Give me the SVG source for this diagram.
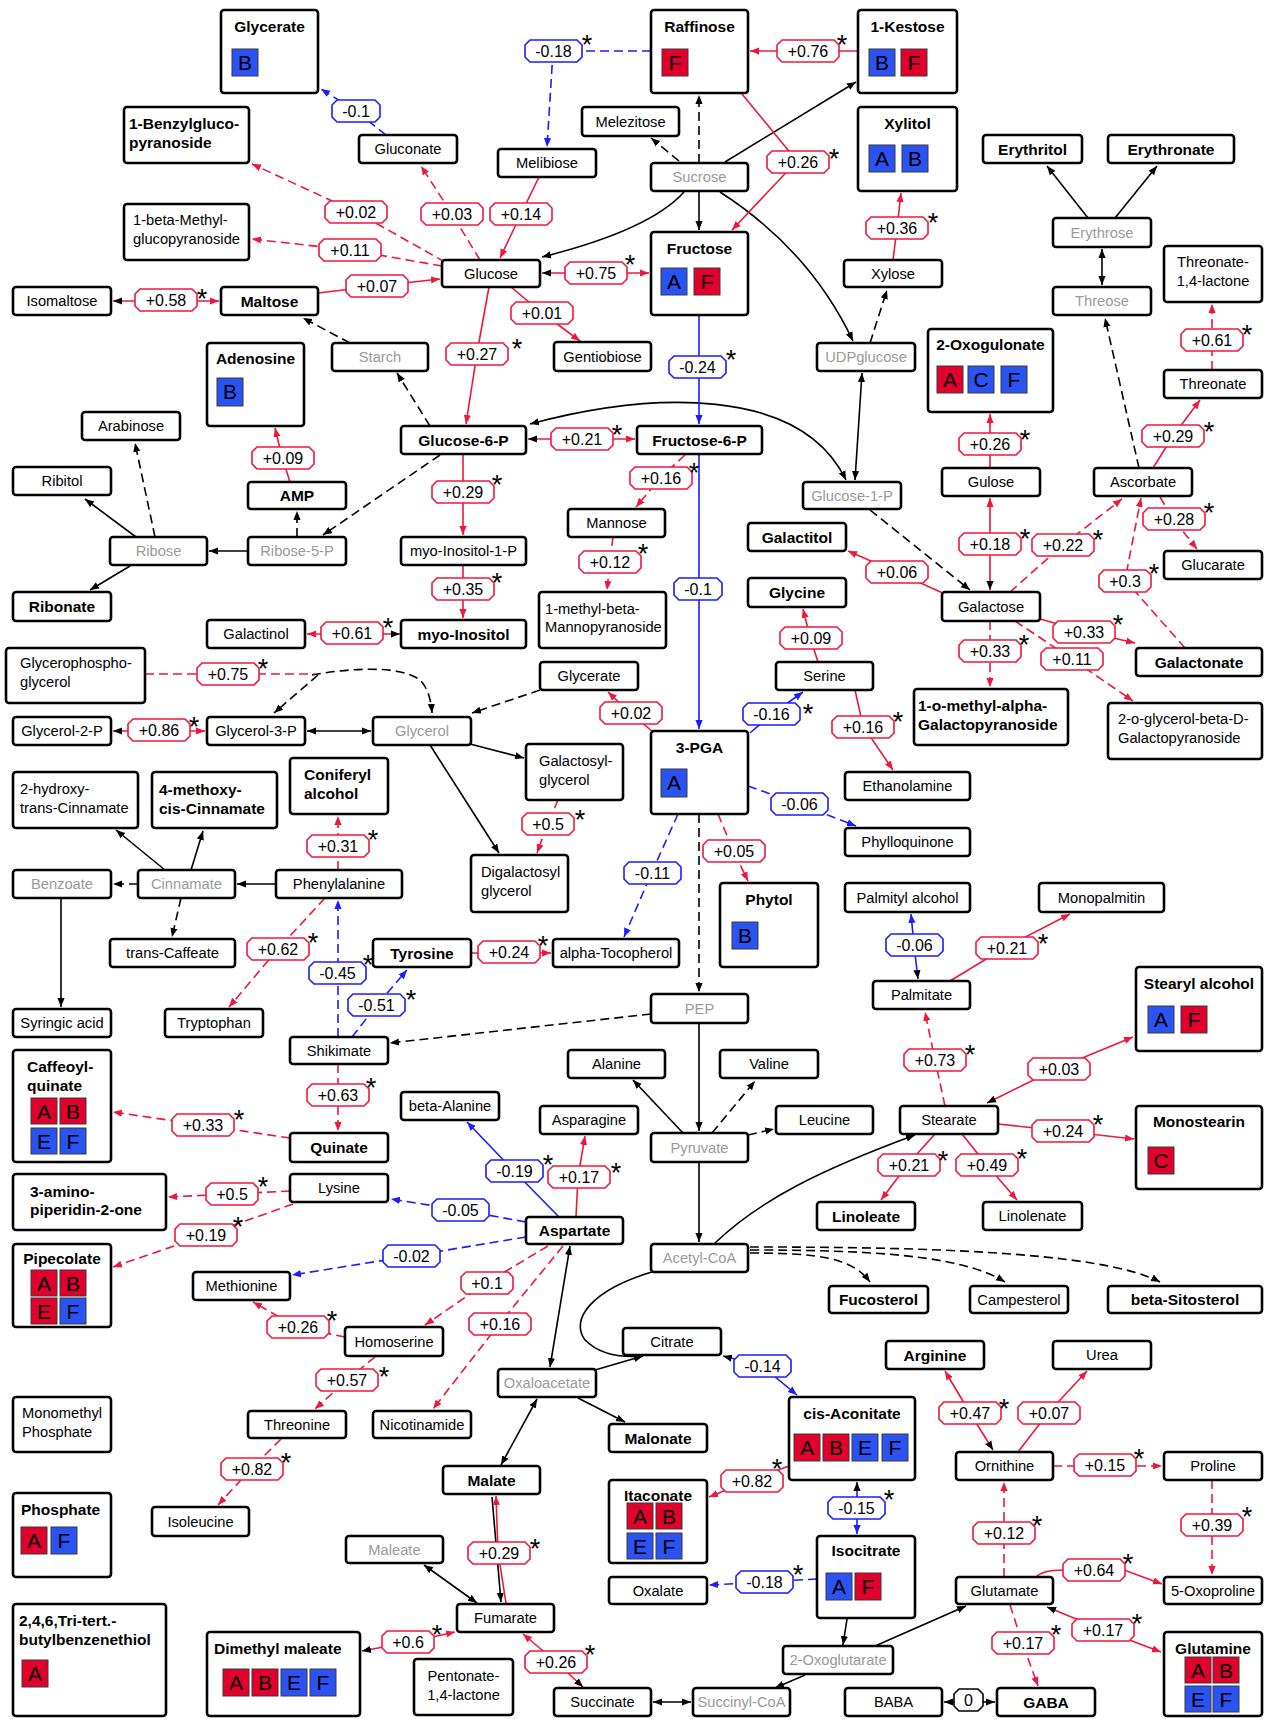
<svg xmlns="http://www.w3.org/2000/svg" width="1270" height="1719" viewBox="0 0 1270 1719">
<style>
text{font-family:"Liberation Sans",Arial,sans-serif;fill:#000}
.nb{fill:#fff;stroke:#000;stroke-width:2.6}
.t{font-size:14.7px;text-anchor:middle}
.tl{font-size:14.7px}
.b{font-size:15.5px;font-weight:bold;text-anchor:middle}
.bl{font-size:15.5px;font-weight:bold}
.g{fill:#9a9a9a}
.sr{fill:#e2002c;stroke:#3a3a3a;stroke-width:1}
.sb{fill:#2b52f2;stroke:#3a3a3a;stroke-width:1}
.sq{font-size:21px;text-anchor:middle}
.e{fill:none;stroke-width:1.6}
.k{stroke:#000}.r{stroke:#f0173c}.u{stroke:#1c1cff}
.d{stroke-dasharray:9 5}
.oct{fill:#fff;stroke-width:1.6}
.lr{stroke:#f0173c}.lb{stroke:#1c1cff}.lk{stroke:#000}
.lt{font-size:16px;text-anchor:middle}
.as{font-size:27px;text-anchor:middle}
</style>
<defs>
<marker id="mk" viewBox="0 0 10 10" refX="10" refY="5" markerWidth="9" markerHeight="9" markerUnits="userSpaceOnUse" orient="auto-start-reverse"><path d="M0,1 L10,5 L0,9 z" fill="#000"/></marker>
<marker id="mr" viewBox="0 0 10 10" refX="10" refY="5" markerWidth="9" markerHeight="9" markerUnits="userSpaceOnUse" orient="auto-start-reverse"><path d="M0,1 L10,5 L0,9 z" fill="#f0173c"/></marker>
<marker id="mb" viewBox="0 0 10 10" refX="10" refY="5" markerWidth="9" markerHeight="9" markerUnits="userSpaceOnUse" orient="auto-start-reverse"><path d="M0,1 L10,5 L0,9 z" fill="#1c1cff"/></marker>
<polygon id="o62" class="oct" points="5,0 57,0 62,5 62,17 57,22 5,22 0,17 0,5"/>
<polygon id="o57" class="oct" points="5,0 52,0 57,5 57,17 52,22 5,22 0,17 0,5"/>
<polygon id="o52" class="oct" points="5,0 47,0 52,5 52,17 47,22 5,22 0,17 0,5"/>
<polygon id="o48" class="oct" points="5,0 43,0 48,5 48,17 43,22 5,22 0,17 0,5"/>
<polygon id="o29" class="oct" points="5,0 24,0 29,5 29,17 24,22 5,22 0,17 0,5"/>
</defs>
<rect width="1270" height="1719" fill="#fff"/>

<g id="connectors">
<path class="e k d" d="M350,343 L303,318" marker-end="url(#mk)"/>
<path class="e k d" d="M430,426 L397,373" marker-end="url(#mk)"/>
<path class="e k" d="M684,192 Q650,230 542,257" marker-end="url(#mk)"/>
<path class="e k" d="M699,191 L699,230" marker-end="url(#mk)"/>
<path class="e k d" d="M699,163 L699,95" marker-end="url(#mk)"/>
<path class="e k d" d="M679,161 L651,138" marker-end="url(#mk)"/>
<path class="e k" d="M725,162 L856,82" marker-end="url(#mk)"/>
<path class="e k" d="M720,192 Q810,250 853,341" marker-end="url(#mk)"/>
<path class="e k d" d="M870,343 L887,290" marker-end="url(#mk)"/>
<path class="e k" d="M530,424 C650,392 800,385 846,480" marker-start="url(#mk)" marker-end="url(#mk)"/>
<path class="e k" d="M862,373 L855,480" marker-start="url(#mk)" marker-end="url(#mk)"/>
<path class="e k d" d="M440,455 L323,535" marker-end="url(#mk)"/>
<path class="e k d" d="M297,537 L297,511" marker-end="url(#mk)"/>
<path class="e k" d="M248,551 L209,551" marker-end="url(#mk)"/>
<path class="e k d" d="M155,537 L135,443" marker-end="url(#mk)"/>
<path class="e k" d="M136,537 L85,499" marker-end="url(#mk)"/>
<path class="e k" d="M130,566 L90,590" marker-end="url(#mk)"/>
<path class="e k d" d="M312,675 C350,668 400,665 420,680 C428,688 431,700 432,713" marker-end="url(#mk)"/>
<path class="e k d" d="M318,675 L274,713" marker-end="url(#mk)"/>
<path class="e k" d="M307,731 L371,731" marker-start="url(#mk)" marker-end="url(#mk)"/>
<path class="e k d" d="M540,690 L472,713" marker-end="url(#mk)"/>
<path class="e k" d="M470,744 L524,758" marker-end="url(#mk)"/>
<path class="e k" d="M430,745 L499,853" marker-end="url(#mk)"/>
<path class="e k d" d="M699,814 L699,992" marker-end="url(#mk)"/>
<path class="e k d" d="M870,510 L970,590" marker-end="url(#mk)"/>
<path class="e k d" d="M1139,468 L1105,318" marker-end="url(#mk)"/>
<path class="e k" d="M1102,249 L1102,285" marker-start="url(#mk)" marker-end="url(#mk)"/>
<path class="e k" d="M1088,218 L1047,166" marker-end="url(#mk)"/>
<path class="e k" d="M1115,218 L1157,166" marker-end="url(#mk)"/>
<path class="e k" d="M276,884 L237,884" marker-end="url(#mk)"/>
<path class="e k d" d="M138,884 L113,884" marker-end="url(#mk)"/>
<path class="e k" d="M165,870 L116,830" marker-end="url(#mk)"/>
<path class="e k" d="M191,870 L203,831" marker-end="url(#mk)"/>
<path class="e k d" d="M181,898 L172,937" marker-end="url(#mk)"/>
<path class="e k" d="M61,898 L61,1007" marker-end="url(#mk)"/>
<path class="e k d" d="M651,1014 L390,1043" marker-end="url(#mk)"/>
<path class="e k" d="M699,1023 L699,1131" marker-end="url(#mk)"/>
<path class="e k" d="M683,1133 L633,1080" marker-end="url(#mk)"/>
<path class="e k d" d="M712,1133 L755,1081" marker-end="url(#mk)"/>
<path class="e k d" d="M748,1135 L774,1129" marker-end="url(#mk)"/>
<path class="e k" d="M699,1162 L699,1242" marker-end="url(#mk)"/>
<path class="e k" d="M715,1243 C760,1200 820,1170 915,1135" marker-end="url(#mk)"/>
<path class="e k d" d="M750,1253 C820,1253 852,1258 870,1282" marker-end="url(#mk)"/>
<path class="e k d" d="M750,1250 C870,1250 962,1255 1005,1282" marker-end="url(#mk)"/>
<path class="e k d" d="M750,1247 C900,1247 1100,1250 1160,1282" marker-end="url(#mk)"/>
<path class="e k" d="M550,1367 L570,1246" marker-start="url(#mk)" marker-end="url(#mk)"/>
<path class="e k" d="M595,1370 L643,1356" marker-end="url(#mk)"/>
<path class="e k" d="M655,1271 C590,1290 570,1320 585,1340 C600,1355 620,1358 643,1356" marker-end="url(#mk)"/>
<path class="e k" d="M578,1398 L625,1422" marker-end="url(#mk)"/>
<path class="e k" d="M537,1399 L501,1465" marker-start="url(#mk)" marker-end="url(#mk)"/>
<path class="e k" d="M424,1565 L477,1603" marker-start="url(#mk)" marker-end="url(#mk)"/>
<path class="e k" d="M653,1702 L691,1702" marker-start="url(#mk)" marker-end="url(#mk)"/>
<path class="e k" d="M805,1675 L775,1688" marker-end="url(#mk)"/>
<path class="e k" d="M847,1619 L843,1645" marker-end="url(#mk)"/>
<path class="e k" d="M875,1646 L966,1606" marker-end="url(#mk)"/>
<path class="e k" d="M492,1497 L501,1602" marker-end="url(#mk)"/>
<path class="e k" d="M944,1702 L995,1702" marker-start="url(#mk)" marker-end="url(#mk)"/>
<path class="e u d" d="M386,135 L356,111 L321,89" marker-end="url(#mb)"/>
<path class="e r d" d="M445,262 L356,212 L252,164" marker-end="url(#mr)"/>
<path class="e r d" d="M442,266 L350,250 L252,239" marker-end="url(#mr)"/>
<path class="e r d" d="M480,260 L452,214 L421,166" marker-end="url(#mr)"/>
<path class="e r" d="M539,177 L521,214 L500,258" marker-end="url(#mr)"/>
<path class="e r" d="M318,293 L377,286 L440,279" marker-end="url(#mr)"/>
<path class="e r" d="M113,301 L219,301" marker-start="url(#mk)" marker-end="url(#mr)"/>
<path class="e u d" d="M651,51 L553,51 L547,147" marker-end="url(#mb)"/>
<path class="e r" d="M858,51 L750,51" marker-end="url(#mr)"/>
<path class="e r" d="M742,94 L797,161 L732,230" marker-end="url(#mr)"/>
<path class="e r" d="M542,273 L649,273" marker-start="url(#mk)" marker-end="url(#mr)"/>
<path class="e r" d="M511,287 L541,312 L580,341" marker-end="url(#mr)"/>
<path class="e r" d="M489,287 L477,353 L466,424" marker-end="url(#mr)"/>
<path class="e u" d="M699,315 L699,424" marker-end="url(#mb)"/>
<path class="e r" d="M893,260 L897,228 L901,193" marker-end="url(#mr)"/>
<path class="e r" d="M528,439 L635,439" marker-start="url(#mk)" marker-end="url(#mr)"/>
<path class="e r" d="M463,454 L463,535" marker-end="url(#mr)"/>
<path class="e r" d="M463,565 L463,618" marker-end="url(#mr)"/>
<path class="e r d" d="M685,455 L661,477 L636,507" marker-end="url(#mr)"/>
<path class="e r d" d="M613,537 L610,561 L607,590" marker-end="url(#mr)"/>
<path class="e u" d="M699,454 L699,729" marker-end="url(#mb)"/>
<path class="e r" d="M290,482 L282,457 L275,428" marker-end="url(#mr)"/>
<path class="e r" d="M400,634 L307,634" marker-start="url(#mk)" marker-end="url(#mr)"/>
<path class="e r d" d="M145,674 L315,674"/>
<path class="e r" d="M113,731 L205,731" marker-start="url(#mk)" marker-end="url(#mr)"/>
<path class="e r" d="M652,731 L630,713 L608,692" marker-end="url(#mr)"/>
<path class="e u" d="M750,733 L772,714 L803,692" marker-end="url(#mb)"/>
<path class="e r" d="M818,662 L810,637 L803,609" marker-end="url(#mr)"/>
<path class="e r" d="M855,690 L863,726 L893,770" marker-end="url(#mr)"/>
<path class="e u d" d="M748,786 L799,804 L856,826" marker-end="url(#mb)"/>
<path class="e r d" d="M558,800 L548,823 L537,853" marker-end="url(#mr)"/>
<path class="e r d" d="M718,814 L733,850 L748,881" marker-end="url(#mr)"/>
<path class="e u d" d="M678,814 L652,872 L624,937" marker-end="url(#mb)"/>
<path class="e r" d="M471,953 L551,953" marker-end="url(#mr)"/>
<path class="e r" d="M990,468 L990,414" marker-end="url(#mr)"/>
<path class="e r" d="M990,590 L990,498" marker-start="url(#mk)" marker-end="url(#mr)"/>
<path class="e r d" d="M1010,592 L1063,545 L1122,499" marker-end="url(#mr)"/>
<path class="e r" d="M945,594 L896,572 L848,551" marker-end="url(#mr)"/>
<path class="e r d" d="M1160,497 L1173,519 L1197,549" marker-end="url(#mr)"/>
<path class="e r d" d="M1185,648 L1125,580 L1141,498" marker-end="url(#mr)"/>
<path class="e r" d="M1040,619 L1083,631 L1135,643" marker-end="url(#mr)"/>
<path class="e r d" d="M990,621 L990,687" marker-end="url(#mr)"/>
<path class="e r d" d="M1015,621 L1072,659 L1133,701" marker-end="url(#mr)"/>
<path class="e r" d="M1153,468 L1173,436 L1200,400" marker-end="url(#mr)"/>
<path class="e r d" d="M1212,370 L1212,304" marker-end="url(#mr)"/>
<path class="e r d" d="M338,870 L338,816" marker-end="url(#mr)"/>
<path class="e r d" d="M325,898 L278,949 L229,1007" marker-end="url(#mr)"/>
<path class="e u d" d="M338,1037 L338,900" marker-end="url(#mb)"/>
<path class="e u d" d="M352,1037 L377,1005 L407,970" marker-end="url(#mb)"/>
<path class="e r d" d="M338,1064 L338,1131" marker-end="url(#mr)"/>
<path class="e r d" d="M290,1138 L202,1125 L113,1112" marker-end="url(#mr)"/>
<path class="e r d" d="M290,1191 L231,1194 L168,1197" marker-end="url(#mr)"/>
<path class="e r d" d="M293,1204 L206,1235 L113,1267" marker-end="url(#mr)"/>
<path class="e u d" d="M526,1222 L460,1210 L391,1199" marker-end="url(#mb)"/>
<path class="e u d" d="M526,1237 L411,1256 L292,1275" marker-end="url(#mb)"/>
<path class="e u" d="M559,1217 L514,1171 L467,1122" marker-end="url(#mb)"/>
<path class="e r" d="M576,1217 L578,1177 L585,1136" marker-end="url(#mr)"/>
<path class="e r d" d="M548,1246 L486,1283 L425,1325" marker-end="url(#mr)"/>
<path class="e r d" d="M563,1246 L500,1323 L433,1409" marker-end="url(#mr)"/>
<path class="e r d" d="M345,1337 L297,1327 L253,1302" marker-end="url(#mr)"/>
<path class="e r d" d="M375,1357 L347,1380 L315,1409" marker-end="url(#mr)"/>
<path class="e r d" d="M281,1439 L251,1469 L218,1505" marker-end="url(#mr)"/>
<path class="e r" d="M506,1603 L498,1552 L496,1496" marker-end="url(#mr)"/>
<path class="e r" d="M362,1651 L410,1642 L455,1632" marker-start="url(#mk)" marker-end="url(#mr)"/>
<path class="e r" d="M583,1687 L555,1661 L523,1634" marker-start="url(#mk)" marker-end="url(#mr)"/>
<path class="e u" d="M723,1356 L762,1366 L797,1395" marker-start="url(#mk)" marker-end="url(#mb)"/>
<path class="e u" d="M857,1482 L857,1534" marker-start="url(#mk)" marker-end="url(#mb)"/>
<path class="e r" d="M789,1466 L751,1480 L709,1497" marker-end="url(#mr)"/>
<path class="e u d" d="M817,1579 L765,1582 L709,1585" marker-end="url(#mb)"/>
<path class="e r" d="M993,1450 L970,1413 L945,1371" marker-start="url(#mk)" marker-end="url(#mr)"/>
<path class="e r" d="M1018,1452 L1048,1413 L1087,1371" marker-end="url(#mr)"/>
<path class="e r d" d="M1053,1466 L1162,1466" marker-end="url(#mr)"/>
<path class="e r d" d="M1212,1480 L1212,1575" marker-end="url(#mr)"/>
<path class="e r d" d="M1004,1577 L1004,1482" marker-end="url(#mr)"/>
<path class="e r" d="M1036,1577 C1042,1571 1052,1570 1063,1570 L1124,1570 L1162,1584" marker-end="url(#mr)"/>
<path class="e r" d="M1047,1607 L1103,1630 L1161,1652" marker-start="url(#mk)" marker-end="url(#mr)"/>
<path class="e r d" d="M1010,1605 L1022,1642 L1038,1686" marker-end="url(#mr)"/>
<path class="e u" d="M918,979 L914,945 L911,914" marker-start="url(#mk)" marker-end="url(#mb)"/>
<path class="e r" d="M950,981 L1006,947 L1070,914" marker-end="url(#mr)"/>
<path class="e r d" d="M945,1106 L935,1060 L925,1012" marker-end="url(#mr)"/>
<path class="e r" d="M987,1103 L1058,1068 L1133,1037" marker-start="url(#mk)" marker-end="url(#mr)"/>
<path class="e r" d="M998,1124 L1063,1131 L1134,1139" marker-end="url(#mr)"/>
<path class="e r" d="M935,1134 L908,1164 L881,1200" marker-end="url(#mr)"/>
<path class="e r" d="M962,1134 L986,1164 L1017,1200" marker-end="url(#mr)"/>
</g>

<g id="edge-labels">
<use href="#o48" class="lb" x="332" y="100"/><text class="lt" x="356" y="117">-0.1</text>
<use href="#o62" class="lr" x="325" y="201"/><text class="lt" x="356" y="218">+0.02</text>
<use href="#o62" class="lr" x="319" y="239"/><text class="lt" x="350" y="256">+0.11</text>
<use href="#o62" class="lr" x="421" y="203"/><text class="lt" x="452" y="220">+0.03</text>
<use href="#o62" class="lr" x="490" y="203"/><text class="lt" x="521" y="220">+0.14</text>
<use href="#o62" class="lr" x="346" y="275"/><text class="lt" x="377" y="292">+0.07</text>
<use href="#o62" class="lr" x="135" y="289"/><text class="lt" x="166" y="306">+0.58</text><text class="as" x="202" y="308">*</text>
<use href="#o57" class="lb" x="525" y="40"/><text class="lt" x="553.5" y="57">-0.18</text><text class="as" x="587" y="54">*</text>
<use href="#o62" class="lr" x="777" y="40"/><text class="lt" x="808" y="57">+0.76</text><text class="as" x="842" y="54">*</text>
<use href="#o62" class="lr" x="767" y="151"/><text class="lt" x="798" y="168">+0.26</text><text class="as" x="834" y="168">*</text>
<use href="#o62" class="lr" x="565" y="262"/><text class="lt" x="596" y="279">+0.75</text><text class="as" x="630" y="274">*</text>
<use href="#o62" class="lr" x="511" y="302"/><text class="lt" x="542" y="319">+0.01</text>
<use href="#o62" class="lr" x="446" y="343"/><text class="lt" x="477" y="360">+0.27</text><text class="as" x="517" y="358">*</text>
<use href="#o57" class="lb" x="669" y="356"/><text class="lt" x="697.5" y="373">-0.24</text><text class="as" x="731" y="369">*</text>
<use href="#o62" class="lr" x="866" y="217"/><text class="lt" x="897" y="234">+0.36</text><text class="as" x="933" y="232">*</text>
<use href="#o62" class="lr" x="551" y="428"/><text class="lt" x="582" y="445">+0.21</text><text class="as" x="617" y="444">*</text>
<use href="#o62" class="lr" x="432" y="481"/><text class="lt" x="463" y="498">+0.29</text><text class="as" x="497" y="494">*</text>
<use href="#o62" class="lr" x="432" y="578"/><text class="lt" x="463" y="595">+0.35</text><text class="as" x="497" y="592">*</text>
<use href="#o62" class="lr" x="630" y="467"/><text class="lt" x="661" y="484">+0.16</text><text class="as" x="694" y="482">*</text>
<use href="#o62" class="lr" x="579" y="551"/><text class="lt" x="610" y="568">+0.12</text><text class="as" x="643" y="563">*</text>
<use href="#o48" class="lb" x="674" y="578"/><text class="lt" x="698" y="595">-0.1</text>
<use href="#o62" class="lr" x="252" y="447"/><text class="lt" x="283" y="464">+0.09</text>
<use href="#o62" class="lr" x="321" y="622"/><text class="lt" x="352" y="639">+0.61</text><text class="as" x="388" y="637">*</text>
<use href="#o62" class="lr" x="197" y="663"/><text class="lt" x="228" y="680">+0.75</text><text class="as" x="263" y="678">*</text>
<use href="#o62" class="lr" x="128" y="719"/><text class="lt" x="159" y="736">+0.86</text><text class="as" x="194" y="736">*</text>
<use href="#o62" class="lr" x="600" y="702"/><text class="lt" x="631" y="719">+0.02</text>
<use href="#o57" class="lb" x="743" y="703"/><text class="lt" x="771.5" y="720">-0.16</text><text class="as" x="808" y="723">*</text>
<use href="#o62" class="lr" x="780" y="627"/><text class="lt" x="811" y="644">+0.09</text>
<use href="#o62" class="lr" x="832" y="716"/><text class="lt" x="863" y="733">+0.16</text><text class="as" x="898" y="731">*</text>
<use href="#o57" class="lb" x="771" y="793"/><text class="lt" x="799.5" y="810">-0.06</text>
<use href="#o52" class="lr" x="522" y="813"/><text class="lt" x="548" y="830">+0.5</text><text class="as" x="580" y="829">*</text>
<use href="#o62" class="lr" x="703" y="840"/><text class="lt" x="734" y="857">+0.05</text>
<use href="#o57" class="lb" x="624" y="862"/><text class="lt" x="652.5" y="879">-0.11</text>
<use href="#o62" class="lr" x="478" y="941"/><text class="lt" x="509" y="958">+0.24</text><text class="as" x="543" y="955">*</text>
<use href="#o62" class="lr" x="959" y="433"/><text class="lt" x="990" y="450">+0.26</text><text class="as" x="1025" y="449">*</text>
<use href="#o62" class="lr" x="959" y="533"/><text class="lt" x="990" y="550">+0.18</text><text class="as" x="1025" y="548">*</text>
<use href="#o62" class="lr" x="1032" y="534"/><text class="lt" x="1063" y="551">+0.22</text><text class="as" x="1098" y="549">*</text>
<use href="#o62" class="lr" x="866" y="561"/><text class="lt" x="897" y="578">+0.06</text>
<use href="#o62" class="lr" x="1143" y="508"/><text class="lt" x="1174" y="525">+0.28</text><text class="as" x="1209" y="522">*</text>
<use href="#o52" class="lr" x="1099" y="570"/><text class="lt" x="1125" y="587">+0.3</text><text class="as" x="1154" y="583">*</text>
<use href="#o62" class="lr" x="1053" y="621"/><text class="lt" x="1084" y="638">+0.33</text><text class="as" x="1118" y="634">*</text>
<use href="#o62" class="lr" x="959" y="640"/><text class="lt" x="990" y="657">+0.33</text><text class="as" x="1024" y="654">*</text>
<use href="#o62" class="lr" x="1041" y="648"/><text class="lt" x="1072" y="665">+0.11</text>
<use href="#o62" class="lr" x="1142" y="425"/><text class="lt" x="1173" y="442">+0.29</text><text class="as" x="1209" y="441">*</text>
<use href="#o62" class="lr" x="1181" y="329"/><text class="lt" x="1212" y="346">+0.61</text><text class="as" x="1247" y="344">*</text>
<use href="#o62" class="lr" x="307" y="835"/><text class="lt" x="338" y="852">+0.31</text><text class="as" x="373" y="849">*</text>
<use href="#o62" class="lr" x="247" y="938"/><text class="lt" x="278" y="955">+0.62</text><text class="as" x="313" y="952">*</text>
<use href="#o57" class="lb" x="309" y="962"/><text class="lt" x="337.5" y="979">-0.45</text><text class="as" x="368" y="974">*</text>
<use href="#o57" class="lb" x="348" y="994"/><text class="lt" x="376.5" y="1011">-0.51</text><text class="as" x="411" y="1009">*</text>
<use href="#o62" class="lr" x="307" y="1084"/><text class="lt" x="338" y="1101">+0.63</text><text class="as" x="371" y="1097">*</text>
<use href="#o62" class="lr" x="172" y="1114"/><text class="lt" x="203" y="1131">+0.33</text><text class="as" x="239" y="1129">*</text>
<use href="#o52" class="lr" x="206" y="1183"/><text class="lt" x="232" y="1200">+0.5</text><text class="as" x="263" y="1196">*</text>
<use href="#o62" class="lr" x="175" y="1224"/><text class="lt" x="206" y="1241">+0.19</text><text class="as" x="238" y="1236">*</text>
<use href="#o57" class="lb" x="432" y="1199"/><text class="lt" x="460.5" y="1216">-0.05</text>
<use href="#o57" class="lb" x="383" y="1245"/><text class="lt" x="411.5" y="1262">-0.02</text>
<use href="#o57" class="lb" x="486" y="1160"/><text class="lt" x="514.5" y="1177">-0.19</text><text class="as" x="548" y="1174">*</text>
<use href="#o62" class="lr" x="548" y="1166"/><text class="lt" x="579" y="1183">+0.17</text><text class="as" x="616" y="1182">*</text>
<use href="#o52" class="lr" x="461" y="1272"/><text class="lt" x="487" y="1289">+0.1</text>
<use href="#o62" class="lr" x="469" y="1313"/><text class="lt" x="500" y="1330">+0.16</text>
<use href="#o62" class="lr" x="267" y="1316"/><text class="lt" x="298" y="1333">+0.26</text><text class="as" x="332" y="1330">*</text>
<use href="#o62" class="lr" x="316" y="1369"/><text class="lt" x="347" y="1386">+0.57</text><text class="as" x="384" y="1386">*</text>
<use href="#o62" class="lr" x="221" y="1458"/><text class="lt" x="252" y="1475">+0.82</text><text class="as" x="286" y="1472">*</text>
<use href="#o62" class="lr" x="468" y="1542"/><text class="lt" x="499" y="1559">+0.29</text><text class="as" x="535" y="1558">*</text>
<use href="#o52" class="lr" x="382" y="1631"/><text class="lt" x="408" y="1648">+0.6</text><text class="as" x="437" y="1644">*</text>
<use href="#o62" class="lr" x="525" y="1651"/><text class="lt" x="556" y="1668">+0.26</text><text class="as" x="590" y="1664">*</text>
<use href="#o57" class="lb" x="734" y="1355"/><text class="lt" x="762.5" y="1372">-0.14</text>
<use href="#o57" class="lb" x="828" y="1497"/><text class="lt" x="856.5" y="1514">-0.15</text><text class="as" x="889" y="1509">*</text>
<use href="#o62" class="lr" x="721" y="1470"/><text class="lt" x="752" y="1487">+0.82</text><text class="as" x="777" y="1478">*</text>
<use href="#o57" class="lb" x="736" y="1571"/><text class="lt" x="764.5" y="1588">-0.18</text><text class="as" x="798" y="1584">*</text>
<use href="#o62" class="lr" x="939" y="1402"/><text class="lt" x="970" y="1419">+0.47</text><text class="as" x="1004" y="1418">*</text>
<use href="#o62" class="lr" x="1018" y="1402"/><text class="lt" x="1049" y="1419">+0.07</text>
<use href="#o62" class="lr" x="1074" y="1454"/><text class="lt" x="1105" y="1471">+0.15</text><text class="as" x="1139" y="1468">*</text>
<use href="#o62" class="lr" x="1181" y="1514"/><text class="lt" x="1212" y="1531">+0.39</text><text class="as" x="1247" y="1526">*</text>
<use href="#o62" class="lr" x="973" y="1522"/><text class="lt" x="1004" y="1539">+0.12</text><text class="as" x="1037" y="1535">*</text>
<use href="#o62" class="lr" x="1063" y="1559"/><text class="lt" x="1094" y="1576">+0.64</text><text class="as" x="1128" y="1573">*</text>
<use href="#o62" class="lr" x="1072" y="1619"/><text class="lt" x="1103" y="1636">+0.17</text><text class="as" x="1137" y="1633">*</text>
<use href="#o62" class="lr" x="992" y="1632"/><text class="lt" x="1023" y="1649">+0.17</text><text class="as" x="1056" y="1644">*</text>
<use href="#o29" class="lk" x="954" y="1689"/><text class="lt" x="968.5" y="1706">0</text>
<use href="#o57" class="lb" x="886" y="934"/><text class="lt" x="914.5" y="951">-0.06</text>
<use href="#o62" class="lr" x="976" y="937"/><text class="lt" x="1007" y="954">+0.21</text><text class="as" x="1043" y="953">*</text>
<use href="#o62" class="lr" x="904" y="1049"/><text class="lt" x="935" y="1066">+0.73</text><text class="as" x="970" y="1064">*</text>
<use href="#o62" class="lr" x="1028" y="1058"/><text class="lt" x="1059" y="1075">+0.03</text>
<use href="#o62" class="lr" x="1032" y="1120"/><text class="lt" x="1063" y="1137">+0.24</text><text class="as" x="1098" y="1134">*</text>
<use href="#o62" class="lr" x="878" y="1154"/><text class="lt" x="909" y="1171">+0.21</text><text class="as" x="943" y="1170">*</text>
<use href="#o62" class="lr" x="956" y="1154"/><text class="lt" x="987" y="1171">+0.49</text><text class="as" x="1022" y="1168">*</text>
</g>

<g id="nodes">
<g id="n-glycerate-top"><rect class="nb" x="221" y="10" width="97" height="83" rx="3"/><text class="b" x="269.5" y="31.5">Glycerate</text><rect class="sb" x="232" y="49" width="26" height="27"/><text class="sq" x="245" y="70">B</text></g>
<g id="n-raffinose"><rect class="nb" x="651" y="10" width="97" height="83" rx="3"/><text class="b" x="699.5" y="31.5">Raffinose</text><rect class="sr" x="662" y="49" width="26" height="27"/><text class="sq" x="675" y="70">F</text></g>
<g id="n-kestose"><rect class="nb" x="858" y="10" width="99" height="83" rx="3"/><text class="b" x="907.5" y="31.5">1-Kestose</text><rect class="sb" x="869" y="49" width="26" height="27"/><text class="sq" x="882" y="70">B</text><rect class="sr" x="901" y="49" width="26" height="27"/><text class="sq" x="914" y="70">F</text></g>
<g id="n-xylitol"><rect class="nb" x="858" y="107" width="99" height="84" rx="3"/><text class="b" x="907.5" y="128.5">Xylitol</text><rect class="sb" x="869" y="145" width="26" height="27"/><text class="sq" x="882" y="166">A</text><rect class="sb" x="902" y="145" width="26" height="27"/><text class="sq" x="915" y="166">B</text></g>
<g id="n-fructose"><rect class="nb" x="651" y="232" width="97" height="83" rx="3"/><text class="b" x="699.5" y="253.5">Fructose</text><rect class="sb" x="661" y="268" width="26" height="27"/><text class="sq" x="674" y="289">A</text><rect class="sr" x="694" y="268" width="26" height="27"/><text class="sq" x="707" y="289">F</text></g>
<g id="n-adenosine"><rect class="nb" x="207" y="343" width="97" height="83" rx="3"/><text class="b" x="255.5" y="363.5">Adenosine</text><rect class="sb" x="217" y="378" width="26" height="28"/><text class="sq" x="230" y="399">B</text></g>
<g id="n-oxogulonate"><rect class="nb" x="928" y="329" width="125" height="83" rx="3"/><text class="b" x="990.5" y="349.5">2-Oxogulonate</text><rect class="sr" x="937" y="366" width="26" height="27"/><text class="sq" x="950" y="387">A</text><rect class="sb" x="968" y="366" width="26" height="27"/><text class="sq" x="981" y="387">C</text><rect class="sb" x="1001" y="366" width="26" height="27"/><text class="sq" x="1014" y="387">F</text></g>
<g id="n-3pga"><rect class="nb" x="651" y="731" width="97" height="83" rx="3"/><text class="b" x="699.5" y="752.5">3-PGA</text><rect class="sb" x="661" y="769" width="26" height="28"/><text class="sq" x="674" y="790">A</text></g>
<g id="n-phytol"><rect class="nb" x="720" y="883" width="98" height="84" rx="3"/><text class="b" x="769" y="904.5">Phytol</text><rect class="sb" x="732" y="922" width="26" height="27"/><text class="sq" x="745" y="943">B</text></g>
<g id="n-stearylalcohol"><rect class="nb" x="1136" y="967" width="126" height="84" rx="3"/><text class="b" x="1199" y="988.5">Stearyl alcohol</text><rect class="sb" x="1148" y="1006" width="26" height="27"/><text class="sq" x="1161" y="1027">A</text><rect class="sr" x="1181" y="1006" width="26" height="27"/><text class="sq" x="1194" y="1027">F</text></g>
<g id="n-monostearin"><rect class="nb" x="1136" y="1106" width="126" height="83" rx="3"/><text class="b" x="1199" y="1126.5">Monostearin</text><rect class="sr" x="1148" y="1147" width="26" height="27"/><text class="sq" x="1161" y="1168">C</text></g>
<g id="n-caffeoylquinate"><rect class="nb" x="13" y="1050" width="98" height="112" rx="3"/><text class="bl" x="27" y="1071.5">Caffeoyl-</text><text class="bl" x="27" y="1090.5">quinate</text><rect class="sr" x="31" y="1098" width="26" height="26"/><text class="sq" x="44" y="1119">A</text><rect class="sr" x="60" y="1098" width="26" height="26"/><text class="sq" x="73" y="1119">B</text><rect class="sb" x="31" y="1128" width="26" height="26"/><text class="sq" x="44" y="1149">E</text><rect class="sb" x="60" y="1128" width="26" height="26"/><text class="sq" x="73" y="1149">F</text></g>
<g id="n-pipecolate"><rect class="nb" x="13" y="1244" width="98" height="83" rx="3"/><text class="b" x="62" y="1264">Pipecolate</text><rect class="sr" x="31" y="1270" width="26" height="26"/><text class="sq" x="44" y="1291">A</text><rect class="sr" x="60" y="1270" width="26" height="26"/><text class="sq" x="73" y="1291">B</text><rect class="sr" x="31" y="1298" width="26" height="26"/><text class="sq" x="44" y="1319">E</text><rect class="sb" x="60" y="1298" width="26" height="26"/><text class="sq" x="73" y="1319">F</text></g>
<g id="n-phosphate"><rect class="nb" x="13" y="1493" width="98" height="84" rx="3"/><text class="bl" x="21" y="1514.5">Phosphate</text><rect class="sr" x="21" y="1527" width="26" height="27"/><text class="sq" x="34" y="1548">A</text><rect class="sb" x="51" y="1527" width="26" height="27"/><text class="sq" x="64" y="1548">F</text></g>
<g id="n-tritert"><rect class="nb" x="13" y="1604" width="153" height="112" rx="3"/><text class="bl" x="19" y="1625.5">2,4,6,Tri-tert.-</text><text class="bl" x="19" y="1644.5">butylbenzenethiol</text><rect class="sr" x="22" y="1660" width="26" height="27"/><text class="sq" x="35" y="1681">A</text></g>
<g id="n-dimethylmaleate"><rect class="nb" x="207" y="1632" width="153" height="84" rx="3"/><text class="bl" x="214" y="1653.5">Dimethyl maleate</text><rect class="sr" x="223" y="1669" width="26" height="27"/><text class="sq" x="236" y="1690">A</text><rect class="sr" x="252" y="1669" width="26" height="27"/><text class="sq" x="265" y="1690">B</text><rect class="sb" x="281" y="1669" width="26" height="27"/><text class="sq" x="294" y="1690">E</text><rect class="sb" x="310" y="1669" width="26" height="27"/><text class="sq" x="323" y="1690">F</text></g>
<g id="n-itaconate"><rect class="nb" x="609" y="1480" width="98" height="83" rx="3"/><text class="b" x="658" y="1500.5">Itaconate</text><rect class="sr" x="627" y="1503" width="26" height="26"/><text class="sq" x="640" y="1524">A</text><rect class="sr" x="656" y="1503" width="26" height="26"/><text class="sq" x="669" y="1524">B</text><rect class="sb" x="627" y="1533" width="26" height="26"/><text class="sq" x="640" y="1554">E</text><rect class="sb" x="656" y="1533" width="26" height="26"/><text class="sq" x="669" y="1554">F</text></g>
<g id="n-cisaconitate"><rect class="nb" x="789" y="1397" width="126" height="83" rx="3"/><text class="b" x="852" y="1418.5">cis-Aconitate</text><rect class="sr" x="794" y="1434" width="26" height="27"/><text class="sq" x="807" y="1455">A</text><rect class="sr" x="823" y="1434" width="26" height="27"/><text class="sq" x="836" y="1455">B</text><rect class="sb" x="852" y="1434" width="26" height="27"/><text class="sq" x="865" y="1455">E</text><rect class="sb" x="882" y="1434" width="26" height="27"/><text class="sq" x="895" y="1455">F</text></g>
<g id="n-isocitrate"><rect class="nb" x="817" y="1536" width="98" height="82" rx="3"/><text class="b" x="866" y="1555.5">Isocitrate</text><rect class="sb" x="826" y="1573" width="26" height="27"/><text class="sq" x="839" y="1594">A</text><rect class="sr" x="855" y="1573" width="26" height="27"/><text class="sq" x="868" y="1594">F</text></g>
<g id="n-glutamine"><rect class="nb" x="1164" y="1632" width="98" height="84" rx="3"/><text class="b" x="1213" y="1653.5">Glutamine</text><rect class="sr" x="1185" y="1657" width="26" height="26"/><text class="sq" x="1198" y="1678">A</text><rect class="sr" x="1213" y="1657" width="26" height="26"/><text class="sq" x="1226" y="1678">B</text><rect class="sb" x="1185" y="1686" width="26" height="26"/><text class="sq" x="1198" y="1707">E</text><rect class="sb" x="1213" y="1686" width="26" height="26"/><text class="sq" x="1226" y="1707">F</text></g>

<g id="n-benzylgluco"><rect class="nb" x="124" y="107" width="125" height="56" rx="3"/><text class="bl" x="129" y="128.5">1-Benzylgluco-</text><text class="bl" x="129" y="147.5">pyranoside</text></g>
<g id="n-betamethyl"><rect class="nb" x="124" y="204" width="125" height="56" rx="3"/><text class="tl" x="133" y="225">1-beta-Methyl-</text><text class="tl" x="133" y="244">glucopyranoside</text></g>
<g id="n-threonatelactone"><rect class="nb" x="1164" y="246" width="98" height="56" rx="3"/><text class="t" x="1213" y="267">Threonate-</text><text class="t" x="1213" y="286">1,4-lactone</text></g>
<g id="n-glycerophospho"><rect class="nb" x="6" y="648" width="139" height="55" rx="3"/><text class="tl" x="20" y="668">Glycerophospho-</text><text class="tl" x="20" y="687">glycerol</text></g>
<g id="n-hydroxycinnamate"><rect class="nb" x="13" y="772" width="125" height="56" rx="3"/><text class="tl" x="20" y="794">2-hydroxy-</text><text class="tl" x="20" y="813">trans-Cinnamate</text></g>
<g id="n-methoxycinnamate"><rect class="nb" x="152" y="772" width="125" height="56" rx="3"/><text class="bl" x="159" y="794.5">4-methoxy-</text><text class="bl" x="159" y="813.5">cis-Cinnamate</text></g>
<g id="n-coniferyl"><rect class="nb" x="290" y="758" width="98" height="56" rx="3"/><text class="bl" x="304" y="779.5">Coniferyl</text><text class="bl" x="304" y="798.5">alcohol</text></g>
<g id="n-methylmanno"><rect class="nb" x="539" y="592" width="127" height="56" rx="3"/><text class="tl" x="545" y="614">1-methyl-beta-</text><text class="tl" x="545" y="632">Mannopyranoside</text></g>
<g id="n-galactosylglycerol"><rect class="nb" x="526" y="744" width="97" height="56" rx="3"/><text class="tl" x="539" y="766">Galactosyl-</text><text class="tl" x="539" y="785">glycerol</text></g>
<g id="n-digalactosyl"><rect class="nb" x="471" y="855" width="97" height="57" rx="3"/><text class="tl" x="481" y="877">Digalactosyl</text><text class="tl" x="481" y="896">glycerol</text></g>
<g id="n-omethylgal"><rect class="nb" x="914" y="689" width="154" height="56" rx="3"/><text class="bl" x="918" y="710.5">1-o-methyl-alpha-</text><text class="bl" x="918" y="729.5">Galactopyranoside</text></g>
<g id="n-oglycerolgal"><rect class="nb" x="1108" y="703" width="154" height="56" rx="3"/><text class="tl" x="1118" y="724">2-o-glycerol-beta-D-</text><text class="tl" x="1118" y="743">Galactopyranoside</text></g>
<g id="n-aminopiperidinone"><rect class="nb" x="13" y="1174" width="153" height="56" rx="3"/><text class="bl" x="30" y="1196.5">3-amino-</text><text class="bl" x="30" y="1214.5">piperidin-2-one</text></g>
<g id="n-monomethylphosphate"><rect class="nb" x="13" y="1397" width="98" height="55" rx="3"/><text class="tl" x="22" y="1418">Monomethyl</text><text class="tl" x="22" y="1437">Phosphate</text></g>
<g id="n-pentonate"><rect class="nb" x="414" y="1659" width="99" height="56" rx="3"/><text class="t" x="463.5" y="1681">Pentonate-</text><text class="t" x="463.5" y="1700">1,4-lactone</text></g>

<g id="n-gluconate"><rect class="nb" x="359" y="135" width="98" height="28" rx="3"/><text class="t" x="408" y="154">Gluconate</text></g>
<g id="n-isomaltose"><rect class="nb" x="13" y="287" width="98" height="28" rx="3"/><text class="t" x="62" y="306">Isomaltose</text></g>
<g id="n-maltose"><rect class="nb" x="221" y="287" width="97" height="28" rx="3"/><text class="b" x="269.5" y="306.5">Maltose</text></g>
<g id="n-starch"><rect class="nb" x="332" y="343" width="96" height="28" rx="3"/><text class="t g" x="380" y="362">Starch</text></g>
<g id="n-melezitose"><rect class="nb" x="582" y="107" width="97" height="29" rx="3"/><text class="t" x="630.5" y="126.5">Melezitose</text></g>
<g id="n-melibiose"><rect class="nb" x="498" y="149" width="98" height="28" rx="3"/><text class="t" x="547" y="168">Melibiose</text></g>
<g id="n-sucrose"><rect class="nb" x="651" y="163" width="97" height="28" rx="3"/><text class="t g" x="699.5" y="182">Sucrose</text></g>
<g id="n-glucose"><rect class="nb" x="442" y="260" width="98" height="27" rx="3"/><text class="t" x="491" y="278.5">Glucose</text></g>
<g id="n-gentiobiose"><rect class="nb" x="554" y="342" width="97" height="29" rx="3"/><text class="t" x="602.5" y="361.5">Gentiobiose</text></g>
<g id="n-xylose"><rect class="nb" x="844" y="260" width="98" height="27" rx="3"/><text class="t" x="893" y="278.5">Xylose</text></g>
<g id="n-udpglucose"><rect class="nb" x="817" y="343" width="98" height="28" rx="3"/><text class="t g" x="866" y="362">UDPglucose</text></g>
<g id="n-erythritol"><rect class="nb" x="983" y="135" width="99" height="28" rx="3"/><text class="b" x="1032.5" y="154.5">Erythritol</text></g>
<g id="n-erythronate"><rect class="nb" x="1108" y="135" width="126" height="28" rx="3"/><text class="b" x="1171" y="154.5">Erythronate</text></g>
<g id="n-erythrose"><rect class="nb" x="1053" y="218" width="98" height="29" rx="3"/><text class="t g" x="1102" y="237.5">Erythrose</text></g>
<g id="n-threose"><rect class="nb" x="1053" y="287" width="98" height="28" rx="3"/><text class="t g" x="1102" y="306">Threose</text></g>
<g id="n-threonate"><rect class="nb" x="1164" y="370" width="98" height="28" rx="3"/><text class="t" x="1213" y="389">Threonate</text></g>
<g id="n-glucose6p"><rect class="nb" x="401" y="426" width="125" height="28" rx="3"/><text class="b" x="463.5" y="445.5">Glucose-6-P</text></g>
<g id="n-fructose6p"><rect class="nb" x="637" y="426" width="125" height="28" rx="3"/><text class="b" x="699.5" y="445.5">Fructose-6-P</text></g>
<g id="n-arabinose"><rect class="nb" x="82" y="412" width="98" height="28" rx="3"/><text class="t" x="131" y="431">Arabinose</text></g>
<g id="n-ribitol"><rect class="nb" x="13" y="467" width="98" height="28" rx="3"/><text class="t" x="62" y="486">Ribitol</text></g>
<g id="n-amp"><rect class="nb" x="248" y="482" width="98" height="27" rx="3"/><text class="b" x="297" y="501">AMP</text></g>
<g id="n-ribose"><rect class="nb" x="110" y="537" width="97" height="28" rx="3"/><text class="t g" x="158.5" y="556">Ribose</text></g>
<g id="n-ribose5p"><rect class="nb" x="248" y="537" width="98" height="28" rx="3"/><text class="t g" x="297" y="556">Ribose-5-P</text></g>
<g id="n-ribonate"><rect class="nb" x="13" y="592" width="98" height="29" rx="3"/><text class="b" x="62" y="612">Ribonate</text></g>
<g id="n-mannose"><rect class="nb" x="568" y="509" width="97" height="28" rx="3"/><text class="t" x="616.5" y="528">Mannose</text></g>
<g id="n-myoinositol1p"><rect class="nb" x="401" y="537" width="125" height="28" rx="3"/><text class="t" x="463.5" y="556">myo-Inositol-1-P</text></g>
<g id="n-gulose"><rect class="nb" x="942" y="468" width="98" height="28" rx="3"/><text class="t" x="991" y="487">Gulose</text></g>
<g id="n-ascorbate"><rect class="nb" x="1094" y="468" width="98" height="28" rx="3"/><text class="t" x="1143" y="487">Ascorbate</text></g>
<g id="n-glucose1p"><rect class="nb" x="803" y="482" width="98" height="27" rx="3"/><text class="t g" x="852" y="500.5">Glucose-1-P</text></g>
<g id="n-galactitol"><rect class="nb" x="748" y="523" width="98" height="28" rx="3"/><text class="b" x="797" y="542.5">Galactitol</text></g>
<g id="n-glucarate"><rect class="nb" x="1164" y="551" width="98" height="28" rx="3"/><text class="t" x="1213" y="570">Glucarate</text></g>
<g id="n-glycine"><rect class="nb" x="748" y="578" width="98" height="29" rx="3"/><text class="b" x="797" y="598">Glycine</text></g>
<g id="n-galactose"><rect class="nb" x="942" y="592" width="98" height="29" rx="3"/><text class="t" x="991" y="611.5">Galactose</text></g>
<g id="n-galactinol"><rect class="nb" x="207" y="620" width="98" height="28" rx="3"/><text class="t" x="256" y="639">Galactinol</text></g>
<g id="n-myoinositol"><rect class="nb" x="401" y="620" width="125" height="28" rx="3"/><text class="b" x="463.5" y="639.5">myo-Inositol</text></g>
<g id="n-galactonate"><rect class="nb" x="1136" y="648" width="126" height="28" rx="3"/><text class="b" x="1199" y="667.5">Galactonate</text></g>
<g id="n-glycerate"><rect class="nb" x="540" y="662" width="98" height="28" rx="3"/><text class="t" x="589" y="681">Glycerate</text></g>
<g id="n-serine"><rect class="nb" x="776" y="662" width="97" height="28" rx="3"/><text class="t" x="824.5" y="681">Serine</text></g>
<g id="n-glycerol2p"><rect class="nb" x="13" y="717" width="98" height="28" rx="3"/><text class="t" x="62" y="736">Glycerol-2-P</text></g>
<g id="n-glycerol3p"><rect class="nb" x="207" y="717" width="98" height="28" rx="3"/><text class="t" x="256" y="736">Glycerol-3-P</text></g>
<g id="n-glycerol"><rect class="nb" x="373" y="717" width="98" height="28" rx="3"/><text class="t g" x="422" y="736">Glycerol</text></g>
<g id="n-ethanolamine"><rect class="nb" x="845" y="772" width="125" height="28" rx="3"/><text class="t" x="907.5" y="791">Ethanolamine</text></g>
<g id="n-phylloquinone"><rect class="nb" x="845" y="828" width="125" height="28" rx="3"/><text class="t" x="907.5" y="847">Phylloquinone</text></g>
<g id="n-benzoate"><rect class="nb" x="13" y="870" width="98" height="28" rx="3"/><text class="t g" x="62" y="889">Benzoate</text></g>
<g id="n-cinnamate"><rect class="nb" x="138" y="870" width="97" height="28" rx="3"/><text class="t g" x="186.5" y="889">Cinnamate</text></g>
<g id="n-phenylalanine"><rect class="nb" x="276" y="870" width="126" height="28" rx="3"/><text class="t" x="339" y="889">Phenylalanine</text></g>
<g id="n-palmitylalcohol"><rect class="nb" x="845" y="883" width="125" height="29" rx="3"/><text class="t" x="907.5" y="902.5">Palmityl alcohol</text></g>
<g id="n-monopalmitin"><rect class="nb" x="1039" y="883" width="125" height="29" rx="3"/><text class="t" x="1101.5" y="902.5">Monopalmitin</text></g>
<g id="n-transcaffeate"><rect class="nb" x="110" y="939" width="125" height="28" rx="3"/><text class="t" x="172.5" y="958">trans-Caffeate</text></g>
<g id="n-tyrosine"><rect class="nb" x="373" y="939" width="98" height="28" rx="3"/><text class="b" x="422" y="958.5">Tyrosine</text></g>
<g id="n-tocopherol"><rect class="nb" x="553" y="939" width="126" height="28" rx="3"/><text class="t" x="616" y="958">alpha-Tocopherol</text></g>
<g id="n-palmitate"><rect class="nb" x="873" y="981" width="97" height="28" rx="3"/><text class="t" x="921.5" y="1000">Palmitate</text></g>
<g id="n-pep"><rect class="nb" x="651" y="994" width="97" height="29" rx="3"/><text class="t g" x="699.5" y="1013.5">PEP</text></g>
<g id="n-syringic"><rect class="nb" x="13" y="1009" width="98" height="28" rx="3"/><text class="t" x="62" y="1028">Syringic acid</text></g>
<g id="n-tryptophan"><rect class="nb" x="165" y="1009" width="98" height="28" rx="3"/><text class="t" x="214" y="1028">Tryptophan</text></g>
<g id="n-shikimate"><rect class="nb" x="290" y="1037" width="98" height="27" rx="3"/><text class="t" x="339" y="1055.5">Shikimate</text></g>
<g id="n-alanine"><rect class="nb" x="568" y="1050" width="97" height="28" rx="3"/><text class="t" x="616.5" y="1069">Alanine</text></g>
<g id="n-valine"><rect class="nb" x="720" y="1050" width="98" height="28" rx="3"/><text class="t" x="769" y="1069">Valine</text></g>
<g id="n-betaalanine"><rect class="nb" x="401" y="1092" width="98" height="28" rx="3"/><text class="t" x="450" y="1111">beta-Alanine</text></g>
<g id="n-asparagine"><rect class="nb" x="540" y="1106" width="98" height="28" rx="3"/><text class="t" x="589" y="1125">Asparagine</text></g>
<g id="n-leucine"><rect class="nb" x="776" y="1106" width="97" height="28" rx="3"/><text class="t" x="824.5" y="1125">Leucine</text></g>
<g id="n-stearate"><rect class="nb" x="900" y="1106" width="98" height="28" rx="3"/><text class="t" x="949" y="1125">Stearate</text></g>
<g id="n-quinate"><rect class="nb" x="290" y="1133" width="98" height="29" rx="3"/><text class="b" x="339" y="1153">Quinate</text></g>
<g id="n-pyruvate"><rect class="nb" x="651" y="1133" width="97" height="29" rx="3"/><text class="t g" x="699.5" y="1152.5">Pyruvate</text></g>
<g id="n-lysine"><rect class="nb" x="290" y="1174" width="98" height="28" rx="3"/><text class="t" x="339" y="1193">Lysine</text></g>
<g id="n-linoleate"><rect class="nb" x="817" y="1202" width="98" height="28" rx="3"/><text class="b" x="866" y="1221.5">Linoleate</text></g>
<g id="n-linolenate"><rect class="nb" x="983" y="1202" width="99" height="28" rx="3"/><text class="t" x="1032.5" y="1221">Linolenate</text></g>
<g id="n-aspartate"><rect class="nb" x="526" y="1217" width="97" height="27" rx="3"/><text class="b" x="574.5" y="1236">Aspartate</text></g>
<g id="n-acetylcoa"><rect class="nb" x="651" y="1244" width="97" height="28" rx="3"/><text class="t g" x="699.5" y="1263">Acetyl-CoA</text></g>
<g id="n-methionine"><rect class="nb" x="193" y="1272" width="97" height="28" rx="3"/><text class="t" x="241.5" y="1291">Methionine</text></g>
<g id="n-fucosterol"><rect class="nb" x="829" y="1286" width="99" height="27" rx="3"/><text class="b" x="878.5" y="1305">Fucosterol</text></g>
<g id="n-campesterol"><rect class="nb" x="970" y="1286" width="98" height="27" rx="3"/><text class="t" x="1019" y="1304.5">Campesterol</text></g>
<g id="n-sitosterol"><rect class="nb" x="1108" y="1286" width="154" height="27" rx="3"/><text class="b" x="1185" y="1305">beta-Sitosterol</text></g>
<g id="n-homoserine"><rect class="nb" x="345" y="1327" width="98" height="29" rx="3"/><text class="t" x="394" y="1346.5">Homoserine</text></g>
<g id="n-citrate"><rect class="nb" x="623" y="1328" width="98" height="27" rx="3"/><text class="t" x="672" y="1346.5">Citrate</text></g>
<g id="n-arginine"><rect class="nb" x="886" y="1341" width="98" height="28" rx="3"/><text class="b" x="935" y="1360.5">Arginine</text></g>
<g id="n-urea"><rect class="nb" x="1053" y="1341" width="98" height="28" rx="3"/><text class="t" x="1102" y="1360">Urea</text></g>
<g id="n-oxaloacetate"><rect class="nb" x="498" y="1369" width="98" height="28" rx="3"/><text class="t g" x="547" y="1388">Oxaloacetate</text></g>
<g id="n-threonine"><rect class="nb" x="248" y="1411" width="98" height="27" rx="3"/><text class="t" x="297" y="1429.5">Threonine</text></g>
<g id="n-nicotinamide"><rect class="nb" x="373" y="1411" width="98" height="27" rx="3"/><text class="t" x="422" y="1429.5">Nicotinamide</text></g>
<g id="n-malonate"><rect class="nb" x="609" y="1424" width="98" height="28" rx="3"/><text class="b" x="658" y="1443.5">Malonate</text></g>
<g id="n-ornithine"><rect class="nb" x="956" y="1452" width="97" height="28" rx="3"/><text class="t" x="1004.5" y="1471">Ornithine</text></g>
<g id="n-proline"><rect class="nb" x="1164" y="1452" width="98" height="28" rx="3"/><text class="t" x="1213" y="1471">Proline</text></g>
<g id="n-malate"><rect class="nb" x="443" y="1466" width="97" height="28" rx="3"/><text class="b" x="491.5" y="1485.5">Malate</text></g>
<g id="n-isoleucine"><rect class="nb" x="152" y="1507" width="97" height="29" rx="3"/><text class="t" x="200.5" y="1526.5">Isoleucine</text></g>
<g id="n-maleate"><rect class="nb" x="346" y="1536" width="97" height="27" rx="3"/><text class="t g" x="394.5" y="1554.5">Maleate</text></g>
<g id="n-glutamate"><rect class="nb" x="956" y="1577" width="97" height="27" rx="3"/><text class="t" x="1004.5" y="1595.5">Glutamate</text></g>
<g id="n-oxoproline"><rect class="nb" x="1164" y="1577" width="98" height="27" rx="3"/><text class="t" x="1213" y="1595.5">5-Oxoproline</text></g>
<g id="n-oxalate"><rect class="nb" x="609" y="1577" width="98" height="27" rx="3"/><text class="t" x="658" y="1595.5">Oxalate</text></g>
<g id="n-fumarate"><rect class="nb" x="457" y="1604" width="97" height="28" rx="3"/><text class="t" x="505.5" y="1623">Fumarate</text></g>
<g id="n-oxoglutarate"><rect class="nb" x="783" y="1646" width="110" height="28" rx="3"/><text class="t g" x="838" y="1665">2-Oxoglutarate</text></g>
<g id="n-succinate"><rect class="nb" x="554" y="1688" width="97" height="28" rx="3"/><text class="t" x="602.5" y="1707">Succinate</text></g>
<g id="n-succinylcoa"><rect class="nb" x="693" y="1688" width="97" height="28" rx="3"/><text class="t g" x="741.5" y="1707">Succinyl-CoA</text></g>
<g id="n-baba"><rect class="nb" x="845" y="1688" width="97" height="28" rx="3"/><text class="t" x="893.5" y="1707">BABA</text></g>
<g id="n-gaba"><rect class="nb" x="997" y="1688" width="98" height="28" rx="3"/><text class="b" x="1046" y="1707.5">GABA</text></g>
</g>
</svg>
